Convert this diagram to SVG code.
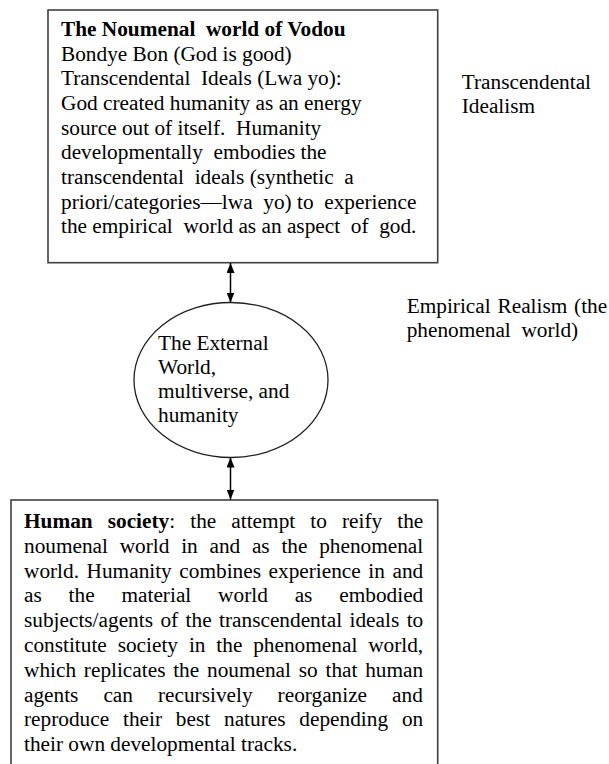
<svg xmlns="http://www.w3.org/2000/svg" width="609" height="764" viewBox="0 0 609 764">
<style>
  .t { font-family: "Liberation Serif", "Times New Roman", serif; font-size: 21.3px; fill: #000; }
  .b { font-weight: bold; }
  .box { fill: #fff; stroke: #404040; stroke-width: 1.6; }
  .ell { fill: #fff; stroke: #202020; stroke-width: 1.3; }
  .conn { stroke: #000; stroke-width: 1.5; fill: none; marker-start: url(#ah); marker-end: url(#ah); }
</style>
<defs>
  <marker id="ah" viewBox="0 0 10 8" refX="10" refY="4" markerWidth="10" markerHeight="8" markerUnits="userSpaceOnUse" orient="auto-start-reverse">
    <path d="M0,0 L10,4 L0,8 z" fill="#000"/>
  </marker>
</defs>
<rect width="609" height="764" fill="#fff"/>

<g id="noumenal">
  <rect class="box" x="48" y="10" width="389.7" height="252.7"/>
  <text class="t b" x="61" y="36">The Noumenal&#160; world of Vodou</text>
  <text class="t" x="61" y="60.7">Bondye Bon (God is good)</text>
  <text class="t" x="61" y="85.3">Transcendental&#160; Ideals (Lwa yo):</text>
  <text class="t" x="61" y="110">God created humanity as an energy</text>
  <text class="t" x="61" y="134.6">source out of itself.&#160; Humanity</text>
  <text class="t" x="61" y="159.3">developmentally&#160; embodies the</text>
  <text class="t" x="61" y="184">transcendental&#160; ideals (synthetic&#160; a</text>
  <text class="t" x="61" y="208.6">priori/categories—lwa&#160; yo) to&#160; experience</text>
  <text class="t" x="61" y="233.3">the empirical&#160; world as an aspect&#160; of&#160; god.</text>
</g>

<g id="label-transcendental">
  <text class="t" x="461.7" y="89.3">Transcendental</text>
  <text class="t" x="461.7" y="113.3">Idealism</text>
</g>

<g id="label-empirical">
  <text class="t" x="406.7" y="313" word-spacing="1.5">Empirical Realism (the</text>
  <text class="t" x="406.7" y="337">phenomenal&#160; world)</text>
</g>

<g id="external-world">
  <ellipse class="ell" cx="231" cy="380" rx="97" ry="77.5"/>
  <text class="t" x="158" y="349.5">The External</text>
  <text class="t" x="158" y="373.8">World,</text>
  <text class="t" x="158" y="398.1">multiverse, and</text>
  <text class="t" x="158" y="422.4">humanity</text>
</g>

<g id="human-society">
  <rect class="box" x="11" y="500" width="426.7" height="280"/>
  <text class="t" x="24" y="528" word-spacing="9.76"><tspan class="b">Human society</tspan>: the attempt to reify the</text>
  <text class="t" x="24" y="552.8" word-spacing="6.41">noumenal world in and as the phenomenal</text>
  <text class="t" x="24" y="577.6" word-spacing="2.26">world. Humanity combines experience in and</text>
  <text class="t" x="24" y="602.4" word-spacing="21.54">as the material world as embodied</text>
  <text class="t" x="24" y="627.2" word-spacing="2.13">subjects/agents of the transcendental ideals to</text>
  <text class="t" x="24" y="652" word-spacing="5.55">constitute society in the phenomenal world,</text>
  <text class="t" x="24" y="676.8" word-spacing="2.46">which replicates the noumenal so that human</text>
  <text class="t" x="24" y="701.6" word-spacing="19.68">agents can recursively reorganize and</text>
  <text class="t" x="24" y="726.4" word-spacing="8.52">reproduce their best natures depending on</text>
  <text class="t" x="24" y="751.2">their own developmental tracks.</text>
</g>

<g id="connectors">
  <line class="conn" x1="230.5" y1="263" x2="230.5" y2="302.5"/>
  <line class="conn" x1="230.5" y1="457.5" x2="230.5" y2="499.5"/>
</g>
</svg>
